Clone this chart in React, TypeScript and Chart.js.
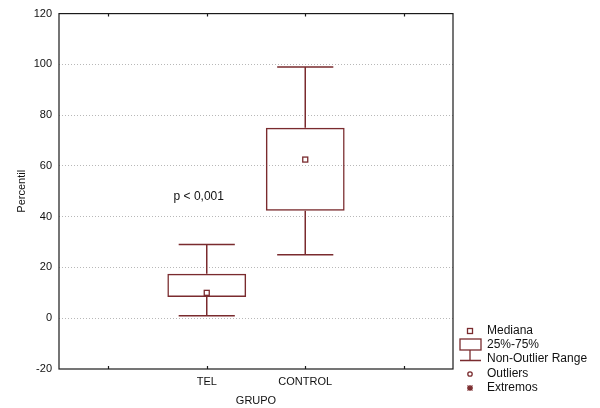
import React, { useEffect, useRef } from "react";
import { Chart, registerables } from "chart.js";

Chart.register(...registerables);

const categories = ["TEL", "CONTROL"];
const axisLabels = ["", ...categories, ""];
const whiskerMin = [1, 25];
const q1 = [8.4, 42.3];
const median = [10, 62.5];
const q3 = [17.5, 75];
const whiskerMax = [29, 99];
const yTicks = [-20, 0, 20, 40, 60, 80, 100, 120];
const pText = "p < 0,001";
const pValueY = 48;
const legendItems = ["Mediana", "25%-75%", "Non-Outlier Range", "Outliers", "Extremos"];

const BOX = "#7a2b2e";
const FONT = "'Liberation Sans', Arial, sans-serif";

const boxPlugin = {
  id: "boxExtras",
  beforeDatasetsDraw(chart: any) {
    const { ctx, scales } = chart;
    const x = scales.x, y = scales.y;
    const slot = x.getPixelForValue(1) - x.getPixelForValue(0);
    ctx.save();
    ctx.strokeStyle = BOX;
    ctx.lineWidth = 1.5;
    categories.forEach((c, i) => {
      const cx = x.getPixelForValue(i + 1);
      const cap = slot * 0.57 / 2;
      ctx.beginPath();
      ctx.moveTo(cx, y.getPixelForValue(whiskerMax[i]));
      ctx.lineTo(cx, y.getPixelForValue(q3[i]));
      ctx.moveTo(cx, y.getPixelForValue(whiskerMin[i]));
      ctx.lineTo(cx, y.getPixelForValue(q1[i]));
      ctx.moveTo(cx - cap, y.getPixelForValue(whiskerMax[i]));
      ctx.lineTo(cx + cap, y.getPixelForValue(whiskerMax[i]));
      ctx.moveTo(cx - cap, y.getPixelForValue(whiskerMin[i]));
      ctx.lineTo(cx + cap, y.getPixelForValue(whiskerMin[i]));
      ctx.stroke();
    });
    ctx.restore();
  },
  afterDatasetsDraw(chart: any) {
    const { ctx, scales, chartArea } = chart;
    const x = scales.x, y = scales.y;
    ctx.save();
    // medians
    ctx.strokeStyle = BOX;
    ctx.lineWidth = 1.3;
    categories.forEach((c, i) => {
      const cx = x.getPixelForValue(i + 1);
      const my = y.getPixelForValue(median[i]);
      ctx.fillStyle = "#fff";
      ctx.fillRect(cx - 2.5, my - 2.5, 5, 5);
      ctx.strokeRect(cx - 2.5, my - 2.5, 5, 5);
    });
    // frame
    ctx.strokeStyle = "#1a1a1a";
    ctx.lineWidth = 1.2;
    ctx.strokeRect(chartArea.left, chartArea.top, chartArea.right - chartArea.left, chartArea.bottom - chartArea.top);
    // inner ticks
    ctx.beginPath();
    axisLabels.forEach((l, i) => {
      const px = Math.round(x.getPixelForValue(i)) + 0.5;
      ctx.moveTo(px, chartArea.top);
      ctx.lineTo(px, chartArea.top + 3);
      ctx.moveTo(px, chartArea.bottom);
      ctx.lineTo(px, chartArea.bottom - 3);
    });
    ctx.stroke();
    // p text
    ctx.fillStyle = "#111";
    ctx.font = `12px ${FONT}`;
    ctx.textAlign = "center";
    ctx.textBaseline = "middle";
    ctx.fillText(pText, x.getPixelForValue(1) - 8, y.getPixelForValue(pValueY));
    // legend
    const ix = chartArea.right + 17;
    const tx = chartArea.right + 34;
    const rows = [331, 345, 359, 374, 388];
    ctx.textAlign = "left";
    ctx.font = `12px ${FONT}`;
    legendItems.forEach((t, i) => ctx.fillText(t, tx, rows[i]));
    ctx.strokeStyle = BOX;
    ctx.lineWidth = 1.3;
    ctx.strokeRect(ix - 2.5, rows[0] - 2.5, 5, 5);
    ctx.strokeRect(ix - 10, rows[1] - 6, 21, 11);
    ctx.beginPath();
    ctx.moveTo(ix, rows[1] + 5);
    ctx.lineTo(ix, rows[2] + 1.5);
    ctx.moveTo(ix - 10, rows[2] + 1.5);
    ctx.lineTo(ix + 11, rows[2] + 1.5);
    ctx.stroke();
    ctx.beginPath();
    ctx.arc(ix, rows[3], 2.2, 0, Math.PI * 2);
    ctx.stroke();
    ctx.beginPath();
    const ay = rows[4];
    ctx.moveTo(ix - 3, ay); ctx.lineTo(ix + 3, ay);
    ctx.moveTo(ix, ay - 3); ctx.lineTo(ix, ay + 3);
    ctx.moveTo(ix - 2.5, ay - 2.5); ctx.lineTo(ix + 2.5, ay + 2.5);
    ctx.moveTo(ix + 2.5, ay - 2.5); ctx.lineTo(ix - 2.5, ay + 2.5);
    ctx.stroke();
    ctx.restore();
  },
};

export default function App() {
  const ref = useRef<HTMLCanvasElement>(null);
  useEffect(() => {
    if (!ref.current) return;
    const chart = new Chart(ref.current, {
      type: "bar",
      data: {
        labels: axisLabels,
        datasets: [
          {
            data: [null, ...categories.map((c, i) => [q1[i], q3[i]]), null] as any,
            backgroundColor: "rgba(255,255,255,0)",
            borderColor: BOX,
            borderWidth: 1.5,
            borderSkipped: false,
            barPercentage: 0.8,
            categoryPercentage: 1,
          },
        ],
      },
      options: {
        animation: false,
        responsive: false,
        layout: { padding: { left: 0, right: 147, top: 11, bottom: 0 } },
        plugins: { legend: { display: false }, tooltip: { enabled: false } },
        scales: {
          x: {
            type: "category",
            offset: true,
            grid: { display: false, drawTicks: false },
            border: { display: false },
            ticks: { font: { family: FONT, size: 11 }, color: "#111", padding: 6, maxRotation: 0, autoSkip: false },
            title: { display: true, text: "GRUPO", font: { family: FONT, size: 11 }, color: "#111", padding: 0 },
            afterFit: (s: any) => { s.height = 39; },
          },
          y: {
            min: -20,
            max: 120,
            afterBuildTicks: (s: any) => { s.ticks = yTicks.map((v) => ({ value: v })); },
            grid: {
              drawTicks: false,
              color: (c: any) => (c.tick && (c.tick.value === 120 || c.tick.value === -20) ? "rgba(0,0,0,0)" : "#b8b8b8"),
              lineWidth: 1,
            },
            border: { display: false, dash: [1, 2] },
            ticks: { font: { family: FONT, size: 11 }, color: "#111", padding: 7 },
            title: { display: true, text: "Percentil", font: { family: FONT, size: 11 }, color: "#111", padding: 15 },
            afterFit: (s: any) => { s.width = 59; },
          },
        },
      },
      plugins: [boxPlugin],
    });
    return () => chart.destroy();
  }, []);
  return (
    <div style={{ position: "fixed", left: 0, top: 0, width: 600, height: 408, background: "#fff" }}>
      <canvas ref={ref} width={600} height={408} style={{ display: "block", width: 600, height: 408 }} />
    </div>
  );
}
